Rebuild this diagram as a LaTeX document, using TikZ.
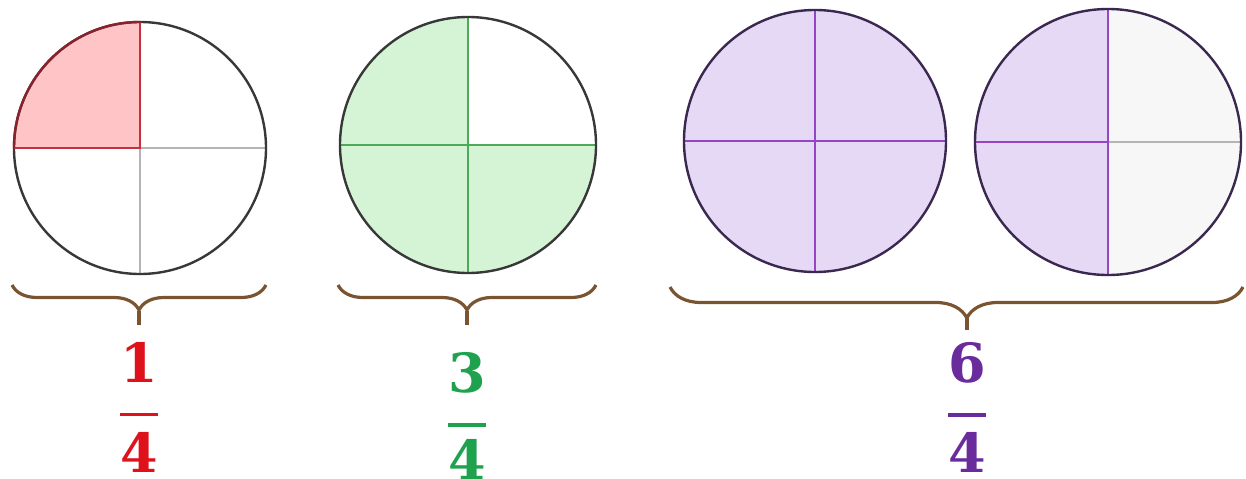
\documentclass[tikz,border=0pt]{standalone}
\usepackage{fontspec}
\setmainfont{DejaVu Serif}
\usetikzlibrary{decorations.pathreplacing,positioning}
\definecolor{fred}{HTML}{DF121C}
\definecolor{fredfill}{HTML}{FFC4C6}
\definecolor{fredline}{HTML}{C4303F}
\definecolor{fgreen}{HTML}{1FA24E}
\definecolor{fgreenfill}{HTML}{D5F4D5}
\definecolor{fgreenline}{HTML}{4CAA58}
\definecolor{fpurple}{HTML}{6A2C9C}
\definecolor{fpurplefill}{HTML}{E6D9F6}
\definecolor{fpurpleline}{HTML}{9446C4}
\definecolor{rim}{HTML}{383838}
\definecolor{rimp}{HTML}{3A2850}
\definecolor{gridgray}{HTML}{B4B4B4}
\definecolor{emptygray}{HTML}{F7F7F7}
\definecolor{bracebrown}{HTML}{7A5430}
\tikzset{
  rimline/.style={draw=#1, line width=1.2pt},
  cutline/.style={draw=#1, line width=0.6pt},
  curly/.style={draw=bracebrown, line width=1.6pt, decorate,
                decoration={brace, mirror, amplitude=#1}},
  stem/.style={draw=bracebrown, line width=1.6pt},
  digit/.style={text=#1, font=\fontsize{27}{27}\selectfont\bfseries, inner sep=0pt},
  fbar/.style={fill=#1, minimum width=19pt, minimum height=1.6pt, inner sep=0pt},
}
\begin{document}
\begin{tikzpicture}[x=0.5pt,y=0.5pt]
  \useasboundingbox (0,0) rectangle (1246,478);
  % one quarter
  \coordinate (c1) at (140,330);
  \fill[fredfill] (c1) -- ++(-126,0) arc (180:90:126) -- cycle;
  \draw[cutline=gridgray] (c1) -- ++(126,0) (c1) -- ++(0,-126);
  \draw[rimline=rim] (c1) circle (126);
  \draw[cutline=fredline, line width=1pt] (c1) ++(-126,0) -- (c1) -- ++(0,126);
  \draw[draw=fredline!70!black, line width=1.2pt] (c1) ++(-126,0) arc (180:90:126);
  % three quarters
  \coordinate (c2) at (468,333);
  \fill[fgreenfill] (c2) circle (128);
  \fill[white] (c2) -- ++(128,0) arc (0:90:128) -- cycle;
  \draw[cutline=fgreenline] (c2) ++(-128,0) -- ++(256,0) (c2) ++(0,-128) -- ++(0,256);
  \draw[rimline=rim] (c2) circle (128);
  % one whole
  \coordinate (c3) at (815,337);
  \fill[fpurplefill] (c3) circle (131);
  \draw[cutline=fpurpleline] (c3) ++(-131,0) -- ++(262,0) (c3) ++(0,-131) -- ++(0,262);
  \draw[rimline=rimp] (c3) circle (131);
  % two halves
  \coordinate (c4) at (1108,336);
  \fill[fpurplefill] (c4) ++(0,-133) arc (-90:-270:133) -- cycle;
  \fill[emptygray] (c4) ++(0,-133) arc (-90:90:133) -- cycle;
  \draw[cutline=gridgray] (c4) -- ++(133,0);
  \draw[cutline=fpurpleline] (c4) -- ++(-133,0) (c4) ++(0,-133) -- ++(0,266);
  \draw[rimline=rimp] (c4) circle (133);

  % braces
  \coordinate (b1l) at (12,193);  \coordinate (b1r) at (266,193);
  \coordinate (t1) at (139,167);  \coordinate (s1) at (139,153);
  \draw[curly=12.5pt] (b1l) -- (b1r);
  \draw[stem] (t1) -- (s1);
  \coordinate (b2l) at (338,193); \coordinate (b2r) at (596,193);
  \coordinate (t2) at (467,167);  \coordinate (s2) at (467,153);
  \draw[curly=12.5pt] (b2l) -- (b2r);
  \draw[stem] (t2) -- (s2);
  \coordinate (b3l) at (670,191); \coordinate (b3r) at (1243,191);
  \coordinate (t3) at (967,160);  \coordinate (s3) at (967,148);
  \draw[curly=15.5pt, decoration={aspect=0.518}] (b3l) -- (b3r);
  \draw[stem] (t3) -- (s3);

  % fractions
  \node[digit=fred, below=8.5pt of s1] (n1) {1};
  \node[fbar=fred, below=14.7pt of n1] (f1) {};
  \node[digit=fred, below=7.7pt of f1] (d1) {4};
  \node[digit=fgreen, below=13.5pt of s2] (n2) {3};
  \node[fbar=fgreen, below=14.7pt of n2] (f2) {};
  \node[digit=fgreen, below=6pt of f2] (d2) {4};
  \node[digit=fpurple, below=6pt of s3] (n3) {6};
  \node[fbar=fpurple, below=14.7pt of n3] (f3) {};
  \node[digit=fpurple, below=7.7pt of f3] (d3) {4};
\end{tikzpicture}
\end{document}
